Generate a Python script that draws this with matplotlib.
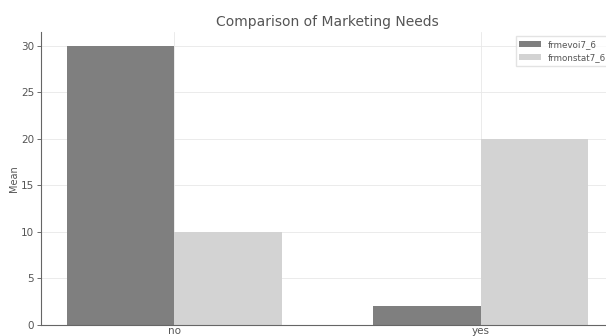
import numpy as np
import matplotlib
matplotlib.use('Agg')
import matplotlib.pyplot as plt

categories = ['no', 'yes']
frmevoi = [30, 2]
frmonstat = [10, 20]

fig = plt.figure(figsize=(6.06, 3.36), dpi=100)
# axes runs slightly past the right edge, as in the reference crop
ax = fig.add_axes([41 / 606, 11 / 336, 573 / 606, 293 / 336])

x = np.arange(len(categories))
w = 0.35
ax.bar(x - w / 2, frmevoi, w, color='#7f7f7f', label='frmevoi7_6', zorder=2)
ax.bar(x + w / 2, frmonstat, w, color='#d3d3d3', label='frmonstat7_6', zorder=2)

ax.set_xticks(x)
ax.set_xticklabels(categories)
ax.set_title('Comparison of Marketing Needs', fontsize=10, color='#555555', pad=4)
ax.set_ylabel('Mean', fontsize=7, color='#555555', labelpad=1)
ax.tick_params(labelsize=7.5, colors='#555555', length=3, width=0.6, pad=2)
ax.tick_params(axis='x', length=0, pad=1)
ax.grid(True, color='#e8e8e8', linewidth=0.6, zorder=0)
for s in ['top', 'right']:
    ax.spines[s].set_visible(False)
for s in ['left', 'bottom']:
    ax.spines[s].set_color('#666666')
    ax.spines[s].set_linewidth(0.8)

ax.legend(loc='upper right', fontsize=6.3, frameon=True, edgecolor='#dddddd',
          labelcolor='#555555', handlelength=2.5, fancybox=False)

fig.savefig('out.png', dpi=100)
